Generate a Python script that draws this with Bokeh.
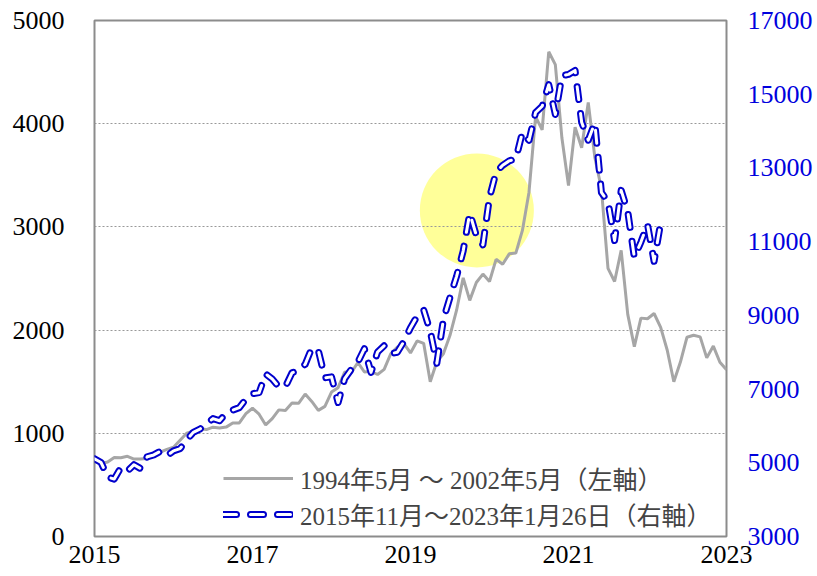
import numpy as np
from bokeh.plotting import figure
from bokeh.models import Range1d, LinearAxis, FixedTicker, Legend, LegendItem
from bokeh.embed import file_html
from bokeh.resources import INLINE

# NASDAQ monthly closes, May 1994 - May 2002 (left axis)
nasdaq_1994_2002 = [
    735, 706, 722, 766, 764, 777, 750, 752,
    755, 794, 817, 844, 865, 933, 1001, 1020, 1044, 1036, 1059, 1052,
    1060, 1100, 1101, 1191, 1243, 1185, 1081, 1142, 1227, 1222, 1293, 1291,
    1380, 1309, 1222, 1261, 1400, 1442, 1594, 1587, 1686, 1594, 1601, 1570,
    1619, 1771, 1836, 1868, 1779, 1895, 1872, 1499, 1694, 1771, 1950, 2193,
    2506, 2288, 2461, 2543, 2471, 2686, 2638, 2739, 2746, 2966, 3336, 4069,
    3940, 4697, 4573, 3861, 3401, 3966, 3767, 4206, 3673, 3370, 2598, 2471,
    2773, 2152, 1840, 2116, 2110, 2161, 2027, 1805, 1499, 1690, 1931, 1950,
    1934, 1731, 1845, 1688, 1616,
]

# NASDAQ monthly closes, Nov 2015 - Jan 26 2023 (right axis)
nasdaq_2015_2023 = [
    5109, 5007,
    4614, 4558, 4870, 4775, 4948, 4843, 5162, 5213, 5312, 5189, 5324, 5383,
    5615, 5825, 5912, 6048, 6199, 6140, 6348, 6429, 6496, 6728, 6874, 6903,
    7411, 7273, 7063, 7066, 7442, 7510, 7672, 8110, 8046, 7306, 7331, 6635,
    7282, 7533, 7729, 8095, 7453, 8006, 8175, 7963, 7999, 8292, 8665, 8973,
    9151, 8567, 7700, 8890, 9490, 10059, 10745, 11775, 11168, 10912, 12199, 12888,
    13071, 13192, 13247, 13963, 13749, 14504, 14673, 15259, 14449, 15498, 15538, 15645,
    14240, 13751, 14221, 12335, 12081, 11029, 12391, 11816, 10576, 10988, 11468, 10466,
    11512,
]

x_ticks = [2015, 2017, 2019, 2021, 2023]
left_ticks = [0, 1000, 2000, 3000, 4000, 5000]
right_ticks = [3000, 5000, 7000, 9000, 11000, 13000, 15000, 17000]
legend_labels = ["1994年5月 ～ 2002年5月（左軸）", "2015年11月～2023年1月26日（右軸）"]

highlight_x = [2019.84]
highlight_y = [3160]

x_gray = 2015 + np.arange(len(nasdaq_1994_2002)) / 12
x_blue = 2015 + np.arange(len(nasdaq_2015_2023)) / 12

FONT = "Liberation Serif, Noto Sans CJK JP"

p = figure(frame_width=632, frame_height=516,
           x_range=Range1d(2015, 2023), y_range=Range1d(0, 5000),
           output_backend="svg", toolbar_location=None,
           min_border_left=94, min_border_top=20, min_border_right=90, min_border_bottom=40,
           background_fill_color="white", border_fill_color="white")
p.extra_y_ranges = {"right": Range1d(3000, 17000)}

p.outline_line_color = "#8C8C8C"
p.outline_line_width = 2

# highlight circle (under grid)
rc = p.scatter(highlight_x, highlight_y, size=114, fill_color="#FFFF99", line_color=None)
rc.level = "image"

rg = p.line(x_gray, nasdaq_1994_2002, line_color="#A6A6A6", line_width=3)
rb = p.line(x_blue, nasdaq_2015_2023, y_range_name="right", line_color="#0000CC",
            line_width=7, line_dash="13 14", line_cap="round", line_join="round")
rw = p.line(x_blue, nasdaq_2015_2023, y_range_name="right", line_color="white",
            line_width=3, line_dash="13 14", line_cap="round", line_join="round")

right_axis = LinearAxis(y_range_name="right", ticker=FixedTicker(ticks=right_ticks))
p.add_layout(right_axis, "right")

p.xaxis.ticker = FixedTicker(ticks=x_ticks)
p.yaxis[0].ticker = FixedTicker(ticks=left_ticks)

for ax in p.axis:
    ax.axis_line_color = None
    ax.major_tick_line_color = None
    ax.minor_tick_line_color = None
    ax.major_tick_in = 0
    ax.major_tick_out = 0
    ax.minor_tick_in = 0
    ax.minor_tick_out = 0
    ax.major_label_text_font = FONT
    ax.major_label_text_font_size = "26px"
    ax.major_label_text_color = "black"

p.yaxis[0].major_label_standoff = 30
right_axis.major_label_standoff = 21
right_axis.major_label_text_color = "#0000DD"
p.xaxis.major_label_standoff = 9

p.xgrid.grid_line_color = None
p.ygrid.grid_line_color = "#999999"
p.ygrid.grid_line_dash = "2 2"
p.ygrid.grid_line_width = 1
p.ygrid.ticker = FixedTicker(ticks=[1000, 2000, 3000, 4000])

legend = Legend(items=[LegendItem(label=legend_labels[0], renderers=[rg]),
                       LegendItem(label=legend_labels[1], renderers=[rb, rw])],
                location=(129, 4), padding=0, margin=0, spacing=-6,
                glyph_width=70, glyph_height=26, label_height=26,
                label_standoff=7, label_text_font=FONT, label_text_font_size="25px",
                border_line_alpha=0, background_fill_alpha=0)
p.add_layout(legend, "center")

open("out.html", "w").write(file_html(p, INLINE))
